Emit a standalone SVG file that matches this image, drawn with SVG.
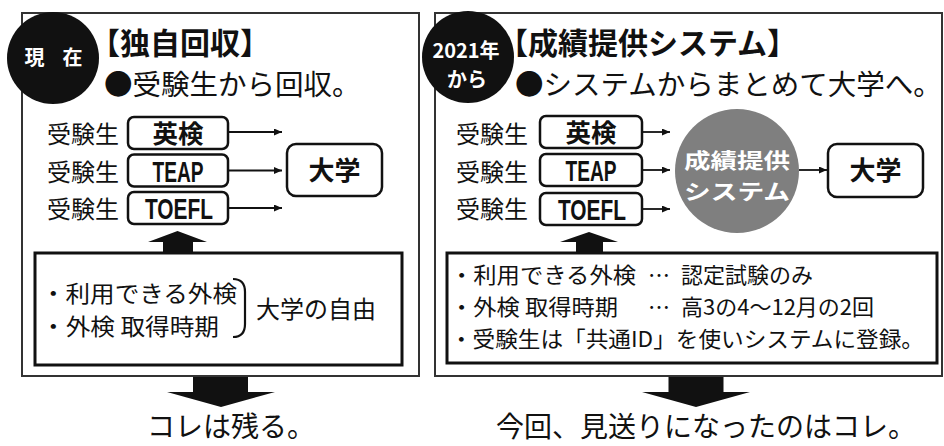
<svg xmlns="http://www.w3.org/2000/svg" width="944" height="446" viewBox="0 0 944 446">
<style>
.panel{fill:#fff;stroke:#333;stroke-width:2}
.box{fill:#fff;stroke:#111;stroke-width:2.5}
.note{fill:#fff;stroke:#111;stroke-width:3}
.t{font-family:"Noto Sans CJK JP","Noto Sans",sans-serif;fill:#111}
.lat{font-family:"Liberation Sans",Arial,sans-serif;font-weight:700;fill:#111}
.b{font-weight:700}
.w{fill:#fff}
.conn{stroke:#111;stroke-width:1.8;fill:none;marker-end:url(#ah)}
.blk{fill:#111;stroke:none}
.brace{fill:none;stroke:#111;stroke-width:2.2}
</style>
<defs>
<marker id="ah" markerUnits="userSpaceOnUse" markerWidth="9" markerHeight="8" refX="8" refY="3.5" orient="auto">
<path d="M0,0 L8,3.5 L0,7 z" fill="#111"/>
</marker>
</defs>
<rect width="944" height="446" fill="#fff"/>

<g id="panel-left"><rect class="panel" x="22" y="13" width="397" height="363"/></g>
<g id="panel-right"><rect class="panel" x="435" y="13" width="507" height="363"/></g>

<g id="badge-now">
<circle cx="53" cy="58" r="46" fill="#111"/>
<text class="t b w" x="53.5" y="65" font-size="20" text-anchor="middle" word-spacing="13.5">現 在</text>
</g>
<g id="title-left">
<text class="t b" x="90" y="54" font-size="30">【独自回収】</text>
<text class="t" x="104" y="95" font-size="28.5">●受験生から回収。</text>
</g>

<g id="badge-2021">
<circle cx="468" cy="57" r="46" fill="#111"/>
<text class="t b w" x="466" y="57.5" font-size="20" text-anchor="middle">2021年</text>
<text class="t b w" x="467" y="86.5" font-size="20" text-anchor="middle">から</text>
</g>
<g id="title-right">
<text class="t b" x="498" y="54" font-size="30">【成績提供システム】</text>
<text class="t" x="515" y="95" font-size="28.5">●システムからまとめて大学へ。</text>
</g>

<!-- left exam nodes -->
<g id="node-eiken-left">
<text class="t" x="47" y="143" font-size="24">受験生</text>
<rect class="box" x="128" y="117" width="100" height="32" rx="6"/>
<text class="t b" x="178" y="142.5" font-size="25.5" text-anchor="middle">英検</text>
</g>
<g id="node-teap-left">
<text class="t" x="47" y="181" font-size="24">受験生</text>
<rect class="box" x="128" y="154.5" width="100" height="32" rx="6"/>
<text class="lat" x="178" y="181.5" font-size="30" text-anchor="middle" textLength="51" lengthAdjust="spacingAndGlyphs">TEAP</text>
</g>
<g id="node-toefl-left">
<text class="t" x="47" y="218" font-size="24">受験生</text>
<rect class="box" x="128" y="192" width="100" height="32" rx="6"/>
<text class="lat" x="179" y="219" font-size="30" text-anchor="middle" textLength="68" lengthAdjust="spacingAndGlyphs">TOEFL</text>
</g>
<g id="node-univ-left">
<rect class="box" x="287" y="144" width="95" height="52" rx="9"/>
<text class="t b" x="334.5" y="180" font-size="26" text-anchor="middle">大学</text>
</g>
<g id="node-notes-left">
<rect class="note" x="35" y="253" width="367" height="112"/>
<text class="t" x="41" y="302" font-size="22.5" textLength="196" lengthAdjust="spacingAndGlyphs">・利用できる外検</text>
<text class="t" x="41" y="335" font-size="22.5" textLength="178" lengthAdjust="spacingAndGlyphs">・外検 取得時期</text>
<path class="brace" d="M233,279 Q245,279 245,292 L245,324 Q245,337 233,337"/>
<text class="t" x="256" y="318" font-size="24">大学の自由</text>
</g>

<!-- right exam nodes -->
<g id="node-eiken-right">
<text class="t" x="456" y="143" font-size="24">受験生</text>
<rect class="box" x="540" y="116" width="102" height="32" rx="6"/>
<text class="t b" x="591" y="141.5" font-size="25.5" text-anchor="middle">英検</text>
</g>
<g id="node-teap-right">
<text class="t" x="456" y="181" font-size="24">受験生</text>
<rect class="box" x="540" y="154" width="102" height="32" rx="6"/>
<text class="lat" x="591" y="181" font-size="30" text-anchor="middle" textLength="51" lengthAdjust="spacingAndGlyphs">TEAP</text>
</g>
<g id="node-toefl-right">
<text class="t" x="456" y="218" font-size="24">受験生</text>
<rect class="box" x="540" y="193" width="102" height="32" rx="6"/>
<text class="lat" x="592" y="220" font-size="30" text-anchor="middle" textLength="68" lengthAdjust="spacingAndGlyphs">TOEFL</text>
</g>
<g id="node-system">
<circle cx="737" cy="171" r="62" fill="#7f7f7f"/>
<text class="t b w" x="737" y="167.5" font-size="21" text-anchor="middle" textLength="106" lengthAdjust="spacingAndGlyphs">成績提供</text>
<text class="t b w" x="737" y="198.5" font-size="21" text-anchor="middle" textLength="106" lengthAdjust="spacingAndGlyphs">システム</text>
</g>
<g id="node-univ-right">
<rect class="box" x="828" y="144" width="95" height="53" rx="9"/>
<text class="t b" x="875.5" y="180" font-size="26" text-anchor="middle">大学</text>
</g>
<g id="node-notes-right">
<rect class="note" x="447" y="253" width="490" height="110"/>
<text class="t" font-size="22"><tspan x="450" y="283" textLength="186" lengthAdjust="spacingAndGlyphs">・利用できる外検</tspan><tspan x="648" y="283">…</tspan><tspan x="681" y="283">認定試験のみ</tspan></text>
<text class="t" font-size="22"><tspan x="450" y="315" textLength="168" lengthAdjust="spacingAndGlyphs">・外検 取得時期</tspan><tspan x="648" y="315">…</tspan><tspan x="681" y="315">高3の4～12月の2回</tspan></text>
<text class="t" x="450" y="347" font-size="22" textLength="474" lengthAdjust="spacingAndGlyphs">・受験生は「共通ID」を使いシステムに登録。</text>
</g>

<g id="bottom-labels">
<text class="t" x="147" y="437" font-size="28">コレは残る。</text>
<text class="t" x="496" y="437" font-size="28">今回、見送りになったのはコレ。</text>
</g>

<g id="connectors">
<line class="conn" x1="229" y1="132" x2="282" y2="132"/>
<line class="conn" x1="229" y1="170.5" x2="282" y2="170.5"/>
<line class="conn" x1="229" y1="208" x2="282" y2="208"/>
<line class="conn" x1="643" y1="132" x2="670" y2="132"/>
<line class="conn" x1="643" y1="170" x2="670" y2="170"/>
<line class="conn" x1="643" y1="209" x2="670" y2="209"/>
<line class="conn" x1="799" y1="170" x2="827" y2="170"/>
<polygon class="blk" points="148,242 177.5,231 207,242 193,242 193,253 163,253 163,242"/>
<polygon class="blk" points="560,242 589,232 618,242 603,242 603,253 576,253 576,242"/>
<polygon class="blk" points="193,377 248,377 248,392 275,392 221,407 167,392 193,392"/>
<polygon class="blk" points="668.5,377 723.5,377 723.5,392 750,392 696,407 642,392 668.5,392"/>
</g>
</svg>
